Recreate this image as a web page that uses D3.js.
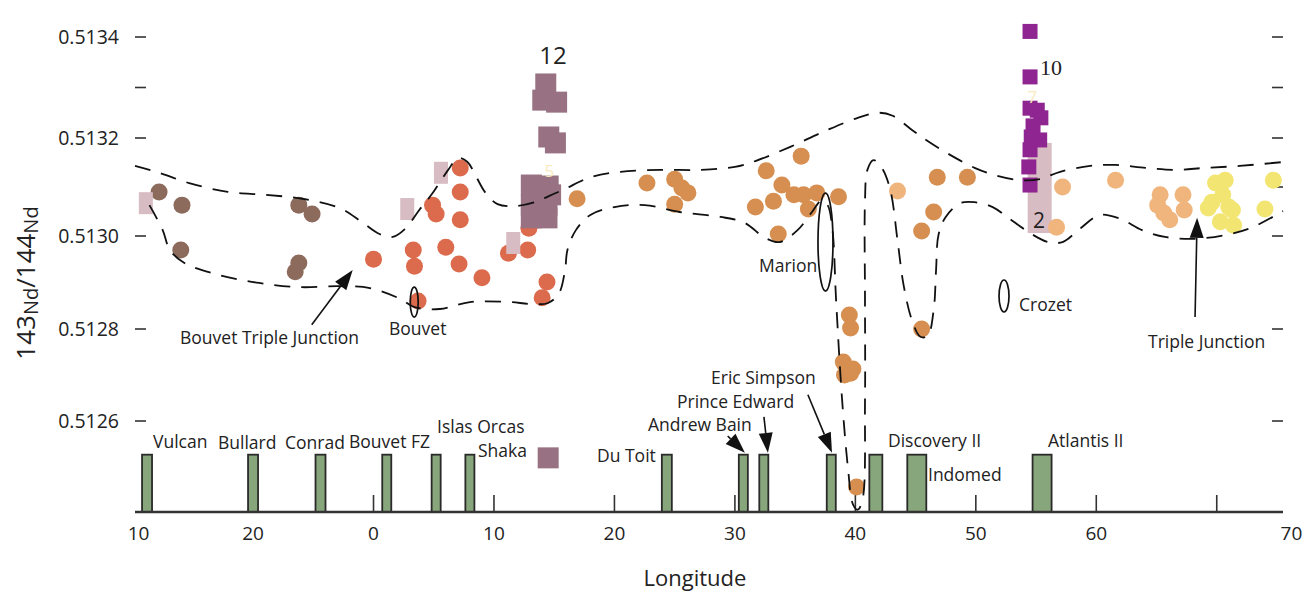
<!DOCTYPE html>
<html>
<head>
<meta charset="utf-8">
<script src="https://cdn.jsdelivr.net/npm/d3@7"></script>
<style>
  body { margin: 0; background: #fff; }
  text { font-family: "Open Sans", Lato, sans-serif; fill: #222; }
</style>
</head>
<body>
<script>

// Samples, [longitude, 143Nd/144Nd]
var bouvetTJ = [
  [-17.8, 0.51309], [-15.9, 0.513063], [-16.0, 0.51297], [-6.2, 0.513063],
  [-5.1, 0.513045], [-6.2, 0.512942], [-6.5, 0.512923]
];
var bouvetSeg = [
  [0.0, 0.51295], [3.3, 0.51297], [3.4, 0.512935], [4.9, 0.513063], [5.2, 0.513045],
  [6.0, 0.512976], [3.7, 0.51286], [7.2, 0.513139], [7.2, 0.51309], [7.2, 0.513033],
  [7.1, 0.51294], [9.0, 0.51291], [12.9, 0.513016], [12.8, 0.51297], [11.2, 0.512963],
  [14.4, 0.512901], [14.0, 0.512867]
];
var swir = [
  [16.9, 0.513076], [22.7, 0.513108], [25.0, 0.513116], [25.6, 0.513098], [26.1, 0.513088],
  [25.0, 0.513065], [35.5, 0.513163], [32.6, 0.513133], [33.9, 0.513104], [34.9, 0.513084],
  [35.7, 0.513084], [36.8, 0.513088], [38.6, 0.51308], [33.2, 0.513071], [31.7, 0.513059],
  [36.1, 0.513055], [33.6, 0.513004], [46.8, 0.51312], [49.3, 0.51312], [46.5, 0.513049],
  [45.5, 0.51301], [39.5, 0.51283], [39.6, 0.512802], [45.5, 0.5128], [39.0, 0.512728],
  [39.8, 0.512713], [39.1, 0.5127], [39.6, 0.512704], [40.1, 0.512455]
];
var eastSwir = [
  [43.5, 0.513092], [57.2, 0.5131], [56.7, 0.513018], [61.6, 0.513114], [65.3, 0.513084],
  [65.1, 0.513063], [65.6, 0.513047], [66.1, 0.513033], [67.2, 0.513084], [67.3, 0.513053]
];
var rtj = [
  [69.9, 0.513108], [70.7, 0.513114], [70.5, 0.513084], [69.6, 0.513069], [71.0, 0.513059],
  [69.3, 0.513057], [71.3, 0.513053], [70.3, 0.513029], [71.4, 0.513022], [74.7, 0.513114],
  [74.0, 0.513055]
];
var pinkSq = [[-18.9, 0.513067], [5.6, 0.513129], [2.8, 0.513055], [11.6, 0.512985]];
var pinkRange = [[55.3, 0.513006, 0.51319]];
var shakaSq = [
  [14.3, 0.513307], [14.05, 0.513275], [15.2, 0.513271], [14.55, 0.513202], [15.1, 0.51319],
  [13.1, 0.513104], [14.5, 0.513102], [14.7, 0.513084], [13.1, 0.513063], [14.4, 0.513063],
  [13.1, 0.513037], [14.4, 0.513037], [14.5, 0.512519]
];
var crozetSq = [
  [54.5, 0.513411], [54.5, 0.513321], [54.5, 0.513259], [55.1, 0.513255], [55.4, 0.51324],
  [54.75, 0.513224], [54.6, 0.513202], [55.3, 0.513196], [54.5, 0.513176], [54.4, 0.513141],
  [54.5, 0.513104]
];

// Envelope (dashed)
var upperEnv = [
  [-19.8, 0.513143], [-17.8, 0.513129], [-15.3, 0.513108], [-12.1, 0.51309], [-9.0, 0.513084],
  [-5.9, 0.513076], [-2.8, 0.513057], [-1.0, 0.513029], [0.5, 0.513004], [1.6, 0.512998],
  [2.6, 0.513014], [3.8, 0.513053], [4.8, 0.513084], [6.2, 0.513135], [7.0, 0.513159],
  [7.8, 0.513151], [8.5, 0.513122], [9.3, 0.513088], [10.3, 0.513065], [11.7, 0.513061],
  [13.4, 0.513069], [14.6, 0.513082], [15.9, 0.513096], [18.0, 0.51312], [20.5, 0.513131],
  [23.8, 0.513135], [27.1, 0.513135], [30.0, 0.513141], [31.7, 0.513153], [34.6, 0.513182],
  [37.5, 0.513214], [40.2, 0.51324], [41.9, 0.51325], [43.1, 0.513244], [44.7, 0.513216],
  [46.0, 0.513194], [47.9, 0.513165], [49.9, 0.513139], [51.6, 0.513124], [53.7, 0.513114],
  [55.3, 0.513116], [57.0, 0.513131], [59.5, 0.513143], [61.6, 0.513145], [64.1, 0.513139],
  [66.6, 0.513135], [69.0, 0.513139], [71.9, 0.513143], [75.5, 0.513151]
];
var lowerEnv = [
  [-18.6, 0.513063], [-17.5, 0.513012], [-16.9, 0.51297], [-15.7, 0.512942], [-12.8, 0.512916],
  [-9.5, 0.512899], [-6.1, 0.51289], [-2.8, 0.512892], [-0.3, 0.512888], [2.2, 0.512865],
  [3.4, 0.512847], [5.5, 0.512843], [8.0, 0.512858], [11.3, 0.512858], [13.0, 0.512854],
  [14.5, 0.512856], [15.4, 0.512877], [15.9, 0.512927], [16.1, 0.51297], [16.8, 0.513012],
  [18.0, 0.513043], [20.0, 0.513059], [22.5, 0.513063], [25.4, 0.513049], [28.8, 0.513039],
  [30.8, 0.513027], [32.5, 0.512996], [33.7, 0.512987], [35.2, 0.513012], [36.4, 0.513049],
  [37.2, 0.513073], [37.7, 0.513063], [38.1, 0.513012], [38.4, 0.512862], [38.9, 0.512646],
  [39.4, 0.512493], [39.8, 0.512417], [40.2, 0.512405], [40.6, 0.512428], [40.8, 0.512646],
  [40.8, 0.512862], [40.8, 0.513073], [41.0, 0.513135], [41.5, 0.513155], [42.2, 0.513139],
  [42.9, 0.513094], [43.5, 0.512991], [44.0, 0.512895], [44.7, 0.512819], [45.4, 0.512783],
  [46.0, 0.512785], [46.5, 0.512841], [46.7, 0.512927], [46.9, 0.513002], [47.5, 0.513039],
  [48.7, 0.513067], [49.9, 0.513069], [51.4, 0.513059], [52.7, 0.513037], [54.5, 0.513006],
  [56.0, 0.512987], [57.2, 0.512987], [58.7, 0.513016], [60.3, 0.513043], [62.0, 0.513035],
  [63.8, 0.513012], [65.7, 0.512998], [68.2, 0.512994], [70.7, 0.513002], [72.8, 0.513016],
  [75.5, 0.513051]
];

// Fracture zones
var fzNames = ["Vulcan", "Bullard", "Conrad", "Bouvet FZ", "Islas Orcas", "Shaka", "Du Toit",
  "Andrew Bain", "Prince Edward", "Eric Simpson", "Discovery II", "Indomed", "Atlantis II"];
var fzLon = [-18.8, -10.0, -4.4, 1.1, 5.2, 8.0, 24.35, 30.7, 32.4, 38.0, 41.7, 45.1, 55.5];
var fzWidth = [0.83, 0.83, 0.83, 0.75, 0.75, 0.75, 0.83, 0.75, 0.75, 0.75, 1.08, 1.58, 1.58];
var fzTop = 0.512526;

// Axes
var xTicks = [-10, 0, 10, 20, 30, 40, 50, 60, 70];
var xTickLabels = ["10", "20", "0", "10", "20", "30", "40", "50", "60", "70"];
var xTickLabelAt = [-19.5, -10, 0, 10, 20, 30, 40, 50, 60, 76.2];
var yTickLabels = ["0.5126", "0.5128", "0.5130", "0.5132", "0.5134"];
var yTicksLeft = [0.5126, 0.5128, 0.5130, 0.5132, 0.5133, 0.5134];
var yTicksRight = [0.5126, 0.5128, 0.5130, 0.5131, 0.5132, 0.5133, 0.5134];

// Annotations: [lon1, nd1, lon2, nd2] arrows, [lon, nd, rx, ry] ellipses
var arrows = [
  [-5.13, 0.512809, -1.73, 0.512927],
  [68.2, 0.512826, 68.37, 0.513037],
  [36.06, 0.512657, 38.06, 0.51253],
  [32.41, 0.512609, 32.74, 0.51253],
  [29.4, 0.512567, 30.83, 0.51253]
];
var ellipses = [[3.38, 0.512858, 4, 15], [37.52, 0.512987, 7.5, 49], [52.34, 0.512871, 5, 16]];


var svg = d3.select("body").append("svg").attr("width", 1309).attr("height", 597);

var x = d3.scaleLinear().domain([-19.8, 75.5]).range([135, 1283]);
var y = d3.scaleLinear()
  .domain([0.5124, 0.5126, 0.5128, 0.5130, 0.5132, 0.5134, 0.513463])
  .range([512, 421, 329, 236, 138, 37, 5]);

var left = x.range()[0], right = x.range()[1], top = 5, bottom = 512;

// ticks
svg.selectAll(".ttick").data(xTicks).enter().append("line")
  .attr("x1", x).attr("x2", x).attr("y1", top).attr("y2", top + 17)
  .attr("stroke", "#333").attr("stroke-width", 1.6);
svg.selectAll(".btick").data(xTicks).enter().append("line")
  .attr("x1", x).attr("x2", x).attr("y1", bottom).attr("y2", bottom - 17)
  .attr("stroke", "#333").attr("stroke-width", 1.6);
svg.selectAll(".ltick").data(yTicksLeft).enter().append("line")
  .attr("x1", left).attr("x2", left + 11).attr("y1", y).attr("y2", y)
  .attr("stroke", "#333").attr("stroke-width", 1.6);
svg.selectAll(".rtick").data(yTicksRight).enter().append("line")
  .attr("x1", right).attr("x2", right - 11).attr("y1", y).attr("y2", y)
  .attr("stroke", "#333").attr("stroke-width", 1.6);

// tick labels
svg.selectAll(".ylab").data(yTickLabels).enter().append("text")
  .attr("x", 119).attr("y", function(d) { return y(+d) + 7; })
  .attr("text-anchor", "end").style("font-size", "19.5px").text(function(d) { return d; });
svg.selectAll(".xlab").data(xTickLabels).enter().append("text")
  .attr("x", function(d, i) { return x(xTickLabelAt[i]); }).attr("y", 540)
  .attr("text-anchor", "middle").style("font-size", "19px").text(function(d) { return d; });

// fracture zones
svg.selectAll(".fz").data(fzNames).enter().append("rect")
  .attr("x", function(d, i) { return x(fzLon[i] - fzWidth[i] / 2); })
  .attr("width", function(d, i) { return x(fzWidth[i]) - x(0); })
  .attr("y", y(fzTop)).attr("height", bottom - y(fzTop))
  .attr("fill", "#88a67b").attr("stroke", "#2a2a2a").attr("stroke-width", 1.8);

// samples
var circles = function(data, color) {
  svg.append("g").selectAll("circle").data(data).enter().append("circle")
    .attr("cx", function(d) { return x(d[0]); })
    .attr("cy", function(d) { return y(d[1]); })
    .attr("r", 8.5).attr("fill", color);
};
var squares = function(data, color, w, h) {
  svg.append("g").selectAll("rect").data(data).enter().append("rect")
    .attr("x", function(d) { return x(d[0]) - w / 2; })
    .attr("y", function(d) { return y(d[1]) - h / 2; })
    .attr("width", w).attr("height", h).attr("fill", color);
};

svg.selectAll(".prange").data(pinkRange).enter().append("rect")
  .attr("x", function(d) { return x(d[0]) - 12; }).attr("width", 24)
  .attr("y", function(d) { return y(d[2]); })
  .attr("height", function(d) { return y(d[1]) - y(d[2]); })
  .attr("fill", "#d8bcc3");

circles(bouvetTJ, "#8c6b5d");
circles(bouvetSeg, "#dc6a4c");
circles(swir, "#d68f50");
circles(eastSwir, "#f0b57d");
circles(rtj, "#f3e572");
squares(pinkSq, "#d8bcc3", 14, 22);
squares(shakaSq, "#987282", 21, 21);
squares(crozetSq, "#8e2590", 15, 15);

// faint counts
svg.append("text").attr("x", x(14.6)).attr("y", 177).attr("text-anchor", "middle")
  .style("font-size", "17px").style("fill", "#f7ebbd").text("5");
svg.append("text").attr("x", x(54.7)).attr("y", 103).attr("text-anchor", "middle")
  .style("font-size", "17px").style("fill", "#f7ebbd").text("7");

// envelope
var env = d3.line()
  .x(function(d) { return x(d[0]); })
  .y(function(d) { return y(d[1]); })
  .curve(d3.curveCatmullRom.alpha(0.5));
[upperEnv, lowerEnv].forEach(function(e) {
  svg.append("path").attr("d", env(e)).attr("fill", "none")
    .attr("stroke", "#111").attr("stroke-width", 1.8)
    .attr("stroke-dasharray", "16,11");
});

// ellipses
svg.selectAll(".ell").data(ellipses).enter().append("ellipse")
  .attr("cx", function(d) { return x(d[0]); })
  .attr("cy", function(d) { return y(d[1]); })
  .attr("rx", function(d) { return d[2]; })
  .attr("ry", function(d) { return d[3]; })
  .attr("fill", "none").attr("stroke", "#111").attr("stroke-width", 1.7);

// arrows
arrows.forEach(function(a) {
  var x1 = x(a[0]), y1 = y(a[1]), x2 = x(a[2]), y2 = y(a[3]);
  var len = Math.sqrt((x2 - x1) * (x2 - x1) + (y2 - y1) * (y2 - y1));
  var ux = (x2 - x1) / len, uy = (y2 - y1) / len;
  var hl = 20, hw = 7;
  var bx = x2 - ux * hl, by = y2 - uy * hl;
  if (len > hl) {
    svg.append("line").attr("x1", x1).attr("y1", y1).attr("x2", bx).attr("y2", by)
      .attr("stroke", "#111").attr("stroke-width", 1.6);
  }
  svg.append("path")
    .attr("d", "M" + x2 + "," + y2 + "L" + (bx - uy * hw) + "," + (by + ux * hw) +
      "L" + (bx + uy * hw) + "," + (by - ux * hw) + "Z")
    .attr("fill", "#111");
});

// labels
var notes = [
  ["Bouvet Triple Junction", 180, 344], ["Bouvet", 389, 335], ["Marion", 759, 272],
  ["Crozet", 1019, 311], ["Triple Junction", 1148, 348],
  ["Vulcan", 153, 448], ["Bullard", 218, 449], ["Conrad", 285, 449], ["Bouvet FZ", 349, 448],
  ["Islas Orcas", 437, 433], ["Shaka", 478, 457], ["Du Toit", 597, 462],
  ["Andrew Bain", 648, 431], ["Prince Edward", 677, 408], ["Eric Simpson", 711, 384],
  ["Discovery II", 888, 447], ["Indomed", 928, 481], ["Atlantis II", 1048, 447]
];
svg.selectAll(".note").data(notes).enter().append("text")
  .attr("x", function(d) { return d[1]; }).attr("y", function(d) { return d[2]; })
  .style("font-size", "17.5px").text(function(d) { return d[0]; });

svg.append("text").attr("x", 553).attr("y", 64).attr("text-anchor", "middle")
  .style("font-size", "24px").text("12");
svg.append("text").attr("x", 1040).attr("y", 75)
  .style("font-size", "22px").style("font-family", "'Liberation Serif', serif").text("10");
svg.append("text").attr("x", 1039).attr("y", 228).attr("text-anchor", "middle")
  .style("font-size", "21px").text("2");

// frame
svg.append("rect").attr("x", left).attr("y", top)
  .attr("width", right - left).attr("height", bottom - top)
  .attr("fill", "none").attr("stroke", "#333").attr("stroke-width", 1.6);
svg.append("line").attr("x1", left).attr("x2", right).attr("y1", bottom).attr("y2", bottom)
  .attr("stroke", "#333").attr("stroke-width", 2.6);

// axis titles
svg.append("text").attr("x", 695).attr("y", 586).attr("text-anchor", "middle")
  .style("font-size", "22px").text("Longitude");

var yt = svg.append("text").attr("transform", "translate(35,283) rotate(-90)")
  .attr("text-anchor", "middle");
yt.append("tspan").style("font-size", "26px").text("143");
yt.append("tspan").style("font-size", "20px").attr("dy", 3).text("Nd");
yt.append("tspan").style("font-size", "26px").attr("dy", -3).text("/144");
yt.append("tspan").style("font-size", "20px").attr("dy", 3).text("Nd");

</script>
</body>
</html>
